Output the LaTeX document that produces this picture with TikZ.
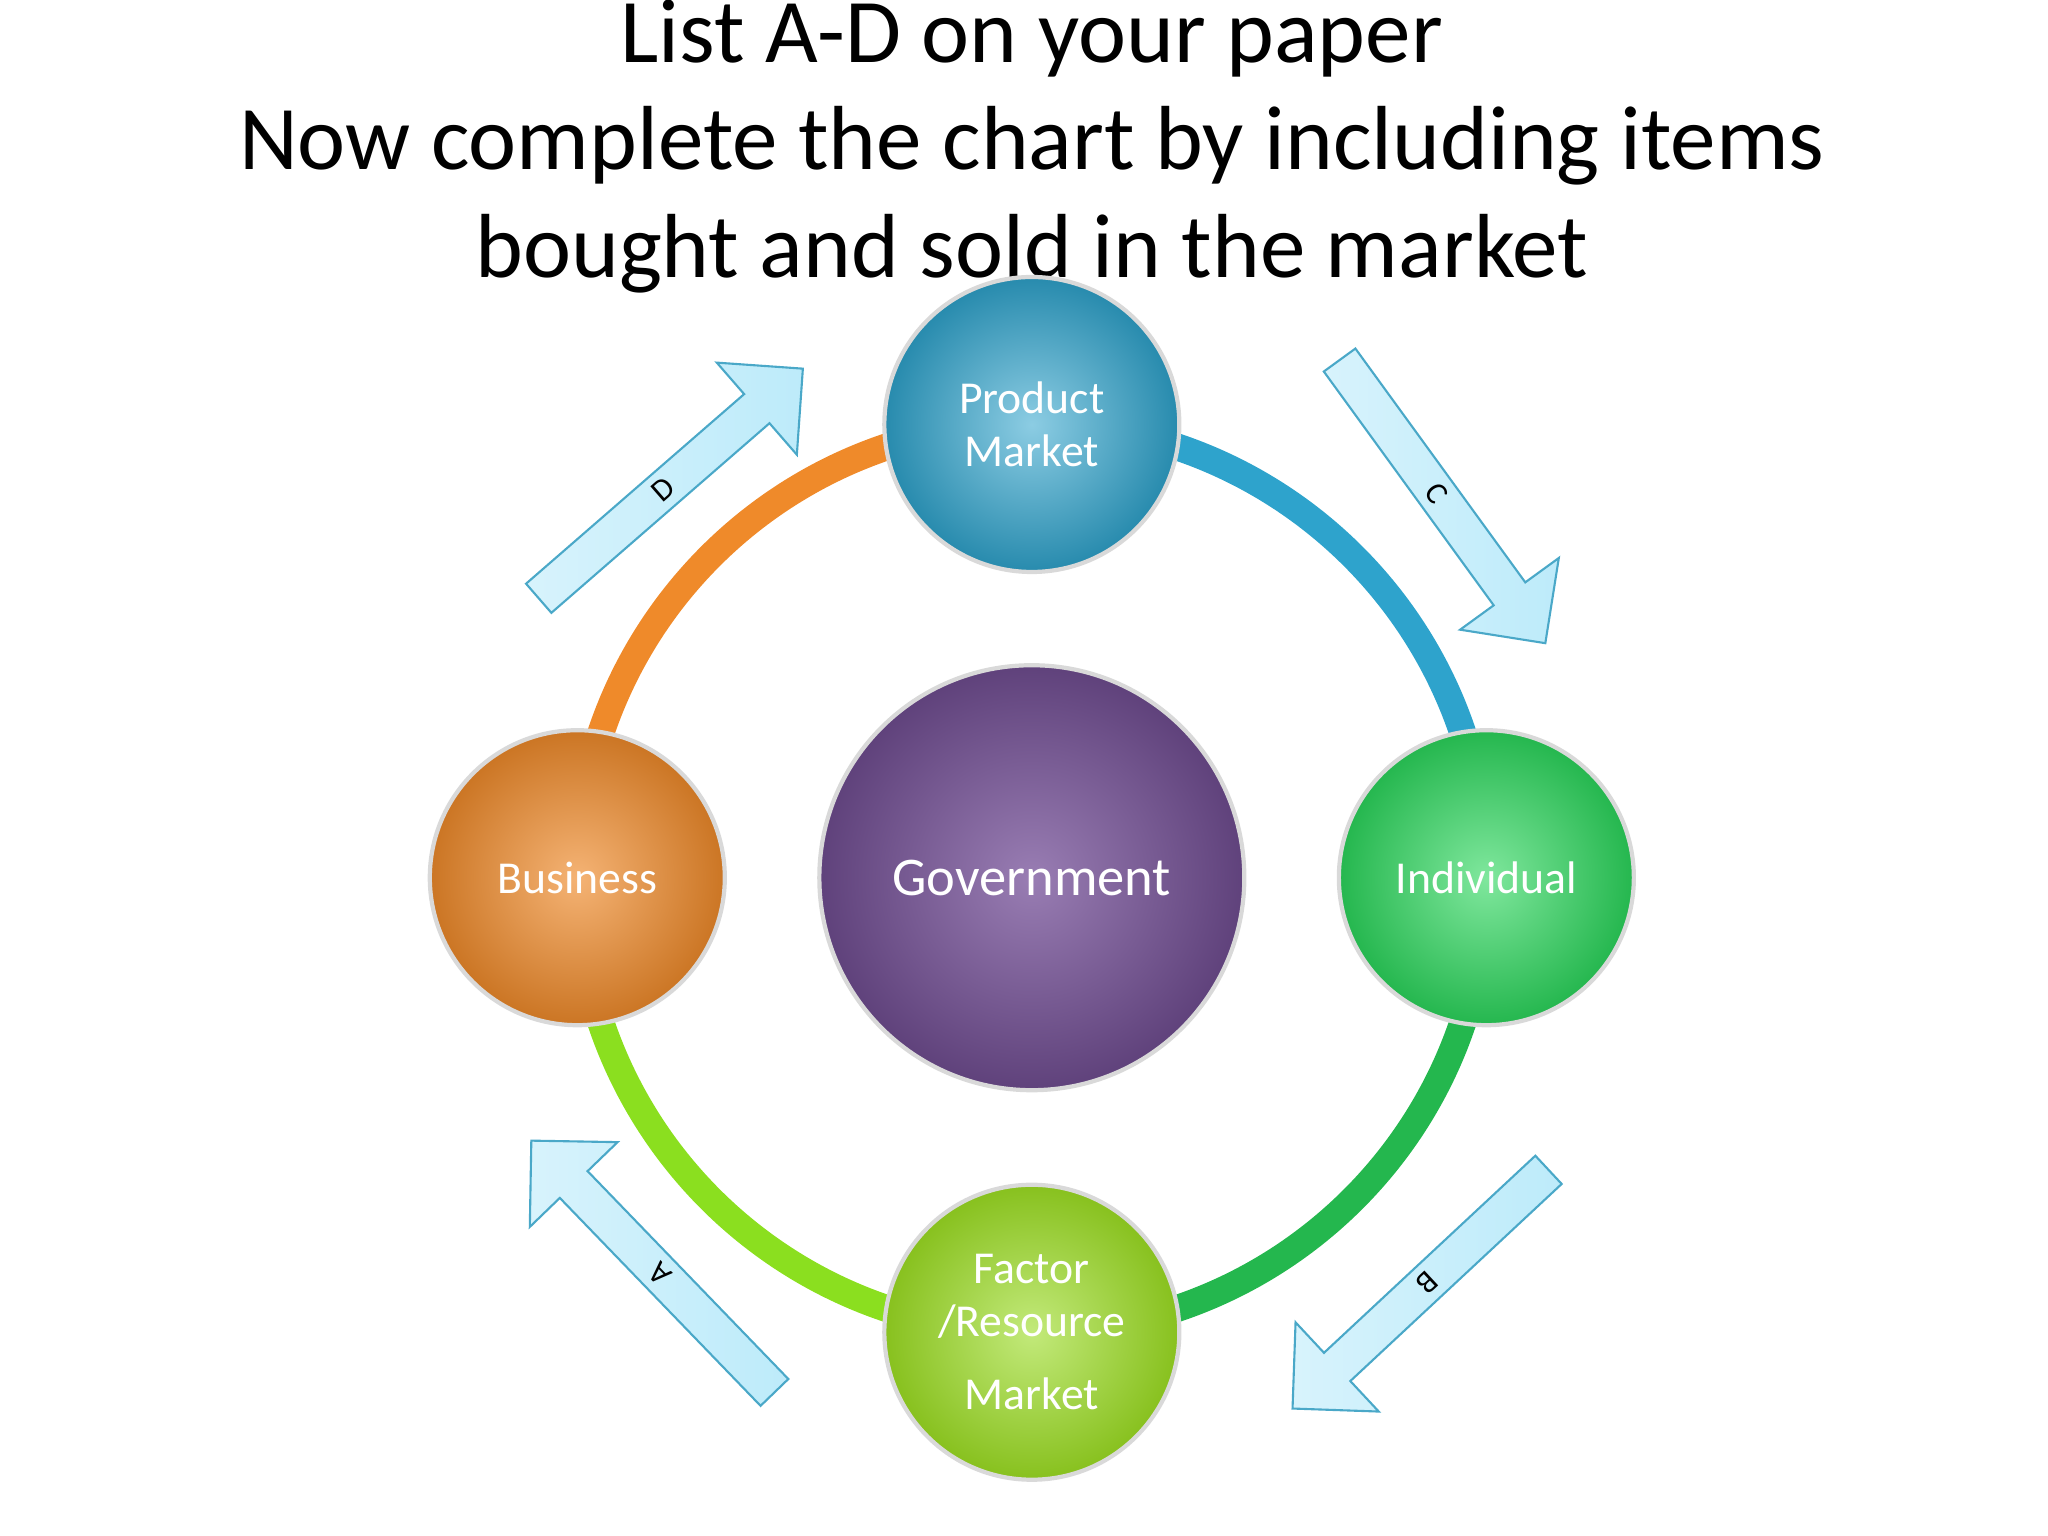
\documentclass[tikz,border=0pt]{standalone}
\usepackage{fontspec}
\setmainfont{Carlito}
\usetikzlibrary{shapes.arrows}
\definecolor{cblue}{HTML}{2EA3CC}
\definecolor{corange}{HTML}{EF8A2A}
\definecolor{cgreen}{HTML}{2BD75C}
\definecolor{clime}{HTML}{9ADB22}
\definecolor{cpurple}{HTML}{77529A}
\definecolor{carrow}{HTML}{BDEBFA}
\definecolor{carrowd}{HTML}{4AA8C8}
\tikzset{
  ball/.style={circle,minimum size=#1,inner sep=0pt,align=center,text=white,draw=white!85!black,line width=1.2pt},
  blockarrow/.style={single arrow,draw=carrowd,line width=0.6pt,left color=carrow!60!white,right color=carrow,
     minimum height=3.5cm,minimum width=1.22cm,single arrow head extend=0.28cm,single arrow head indent=0cm,
     inner sep=0.5pt,font=\fontsize{9}{9}\selectfont,anchor=center},
  ring/.style={line width=0.27cm}
}
\begin{document}
\begin{tikzpicture}[x=0.013061cm,y=-0.013061cm]
\useasboundingbox (0,0) rectangle (1568,1176);
\node[align=center,font=\fontsize{25.9}{30.6}\selectfont] (title) at (790,112)
 {List A-D on your paper\\Now complete the chart by including items\\bought and sold in the market};
\coordinate (c) at (790,672);
\draw[ring,cblue] (c) ++(0:4.545cm) arc[start angle=0,end angle=90,radius=4.545cm];
\draw[ring,corange] (c) ++(90:4.545cm) arc[start angle=90,end angle=180,radius=4.545cm];
\draw[ring,clime!90!green] (c) ++(180:4.545cm) arc[start angle=180,end angle=270,radius=4.545cm];
\draw[ring,cgreen!85!black] (c) ++(270:4.545cm) arc[start angle=270,end angle=360,radius=4.545cm];
\node[ball=2.95cm,inner color=cblue!55!white,outer color=cblue!85!black,font=\fontsize{13}{15}\selectfont] (pm) at (790,325) {Product\\Market};
\node[ball=2.95cm,inner color=corange!65!white,outer color=corange!85!black,font=\fontsize{13}{15}\selectfont] (bus) at (442,672) {Business};
\node[ball=2.95cm,inner color=cgreen!60!white,outer color=cgreen!85!black,font=\fontsize{13}{15}\selectfont] (ind) at (1138,672) {Individual};
\node[ball=2.95cm,inner color=clime!60!white,outer color=clime!88!black,font=\fontsize{13}{15}\selectfont] (fac) at (790,1020) {Factor\\/Resource\\[6pt]Market};
\node[ball=4.25cm,inner color=cpurple!75!white,outer color=cpurple!80!black,font=\fontsize{15.5}{18}\selectfont] (gov) at (790,672) {Government};
\node[blockarrow,rotate=41] (d) at (508,375) {D};
\node[blockarrow,rotate=-54] (cc) at (1100,378) {C};
\node[blockarrow,rotate=-137] (b) at (1093,982) {B};
\node[blockarrow,rotate=134] (a) at (505,975) {A};
\end{tikzpicture}
\end{document}
